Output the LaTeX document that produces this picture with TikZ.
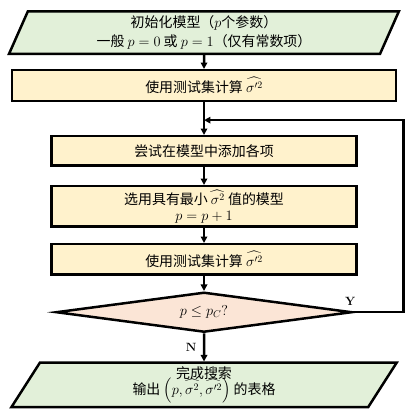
\documentclass[tikz,border=0pt]{standalone}
\usepackage{amsmath,amssymb}
\usepackage{fontspec}
\newfontfamily\cjk{Noto Sans CJK SC}
\usepackage{tikz}
\usetikzlibrary{calc, positioning, shapes.geometric, arrows.meta}
\definecolor{cIoFill}{HTML}{E2F0D9}
\definecolor{cStFill}{HTML}{FFF2CC}
\definecolor{cDcFill}{HTML}{FBE5D6}

\begin{document}
\begin{tikzpicture}[x=1bp, y=-1bp,
  font=\cjk\fontsize{14}{19}\selectfont,
  >={Triangle[length=6.5pt,width=6.5pt]},
  io/.style={trapezium, trapezium left angle=72, trapezium right angle=108,
             trapezium stretches=true, draw, line width=2.5pt, fill=cIoFill,
             align=center, inner sep=1pt},
  stepbox/.style={draw, line width=2.5pt, fill=cStFill, align=center, inner sep=2pt},
  test/.style={diamond, aspect=7, draw, line width=2.5pt, fill=cDcFill,
               minimum width=296bp, minimum height=40bp, inner sep=0pt},
  yn/.style={font=\rmfamily\bfseries\fontsize{12}{12}\selectfont},
  flow/.style={->, line width=2.5pt}
]
\useasboundingbox (0,0) rectangle (410,413);

\node[io, minimum width=390bp, minimum height=42.5bp] (init) at (204,32.5)
  {初始化模型（$p$个参数）\\一般 $p=0$ 或 $p=1$（仅有常数项）};
\node[stepbox, minimum width=384bp, minimum height=30.5bp, below=14bp of init] (test0)
  {使用测试集计算 $\widehat{\sigma'^2}$};
\node[stepbox, minimum width=305bp, minimum height=29.5bp, below=33bp of test0] (try)
  {尝试在模型中添加各项};
\node[stepbox, minimum width=305bp, minimum height=40.5bp, below=18bp of try] (pick)
  {选用具有最小 $\widehat{\sigma^2}$ 值的模型\\[-3pt]$p=p+1$};
\node[stepbox, minimum width=305bp, minimum height=30.5bp, below=15bp of pick] (test1)
  {使用测试集计算 $\widehat{\sigma'^2}$};
\node[test, below=15bp of test1] (check) {$p\le p_C?$};
\node[io, minimum width=386bp, minimum height=44.5bp, below=28bp of check] (done)
  {完成搜索\\[-3pt]输出 $\left(p,\widehat{\sigma^2},\widehat{\sigma'^2}\right)$ 的表格};

\coordinate (back) at ($(test0.south)!0.55!(try.north)$);

\draw[flow] (init) -- (test0);
\draw[flow] (test0) -- (try);
\draw[flow] (try) -- (pick);
\draw[flow] (pick) -- (test1);
\draw[flow] (test1) -- (check);
\draw[flow] (check) -- node[yn, left=3pt]{N} (done);
\draw[flow] (check.east) -- node[yn, above, pos=0, xshift=-3pt, yshift=2pt]{Y}
  ++(50,0) |- (back);
\end{tikzpicture}
\end{document}
